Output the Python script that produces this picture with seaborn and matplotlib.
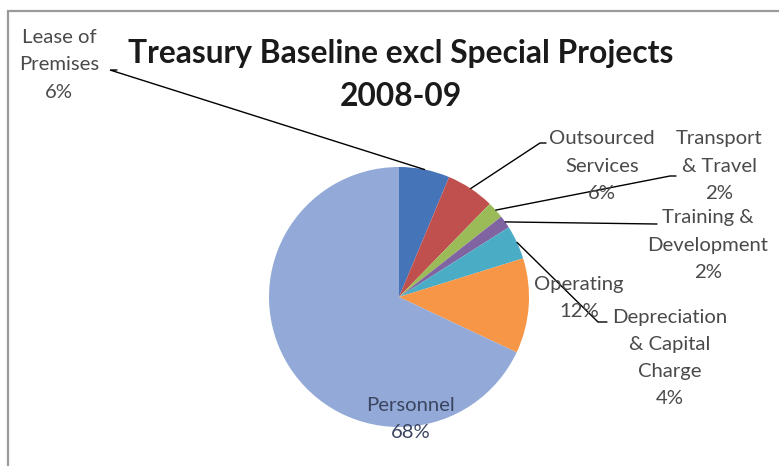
import numpy as np
import matplotlib
matplotlib.use("Agg")
import matplotlib.pyplot as plt
import seaborn as sns
from matplotlib.patches import Rectangle

sns.set_theme(style="white")
plt.rcParams['font.family'] = ['Lato', 'DejaVu Sans']

# ---- data ----
categories = ["Lease of Premises", "Outsourced Services", "Transport & Travel",
              "Training & Development", "Depreciation & Capital Charge",
              "Operating", "Personnel"]
values = [6.3, 6.0, 2.1, 1.6, 4.2, 11.8, 68.0]
label_texts = ["Lease of\nPremises\n6%", "Outsourced\nServices\n6%",
               "Transport\n& Travel\n2%", "Training &\nDevelopment\n2%",
               "Depreciation\n& Capital\nCharge\n4%", "Operating\n12%",
               "Personnel\n68%"]
colors = ["#4674B8", "#C0504D", "#9BBB59", "#8064A2", "#4BACC6",
          "#F79646", "#93AAD8"]
title = "Treasury Baseline excl Special Projects\n2008-09"

W, H = 779, 466
fig = plt.figure(figsize=(W / 100, H / 100), dpi=100)
fig.patch.set_facecolor("white")

# pie geometry (pixels)
cx, cy, R = 399, 297, 130
ax = fig.add_axes([(cx - R) / W, (H - cy - R) / H, 2 * R / W, 2 * R / H])

wedges, _ = ax.pie(values, colors=colors, startangle=90, counterclock=False,
                   radius=1.0, wedgeprops=dict(linewidth=0))
ax.set_xlim(-1, 1)
ax.set_ylim(-1, 1)
ax.set_aspect("equal")
ax.axis("off")


def to_data(px, py):
    return (px - cx) / R, (cy - py) / R


# label positions (pixel centre of text block) and leader end points
label_pos = [(59, 65), (602, 166), (719, 166), (708, 245), (670, 358),
             (579, 298), (411, 419)]
leader_ends = [((110, 70), (117, 70)),
               ((540, 143), (546, 143)),
               ((670, 176), (676, 176)),
               ((656, 224), (657, 224)),
               ((598, 322), (607, 322)),
               None, None]

text_color = "#4a4a4a"
for i, (w, txt, pos) in enumerate(zip(wedges, label_texts, label_pos)):
    tx, ty = to_data(*pos)
    col = "#3b4560" if i == 6 else text_color
    ax.text(tx, ty, txt, ha="center", va="center", fontsize=14.6,
            color=col, linespacing=1.72, clip_on=False)
    if leader_ends[i] is not None:
        ang = np.deg2rad((w.theta1 + w.theta2) / 2)
        sx, sy = np.cos(ang), np.sin(ang)
        (p1, p2) = leader_ends[i]
        x1, y1 = to_data(*p1)
        x2, y2 = to_data(*p2)
        ax.plot([sx, x1, x2], [sy, y1, y2], color="black", lw=1.0,
                clip_on=False, solid_joinstyle="miter")

# title
fig.text(401 / W, 1 - 75 / H, title, ha="center", va="center",
         fontsize=22.9, fontweight="bold", color="#1a1a1a", linespacing=1.58)

# chart border (partially visible)
fig.patches.append(Rectangle((8 / W, -0.1), 1.2, 1 - 11 / H + 0.1,
                             transform=fig.transFigure, fill=False,
                             edgecolor="#9a9a9a", linewidth=1.6))

fig.savefig("out.png", dpi=100)
